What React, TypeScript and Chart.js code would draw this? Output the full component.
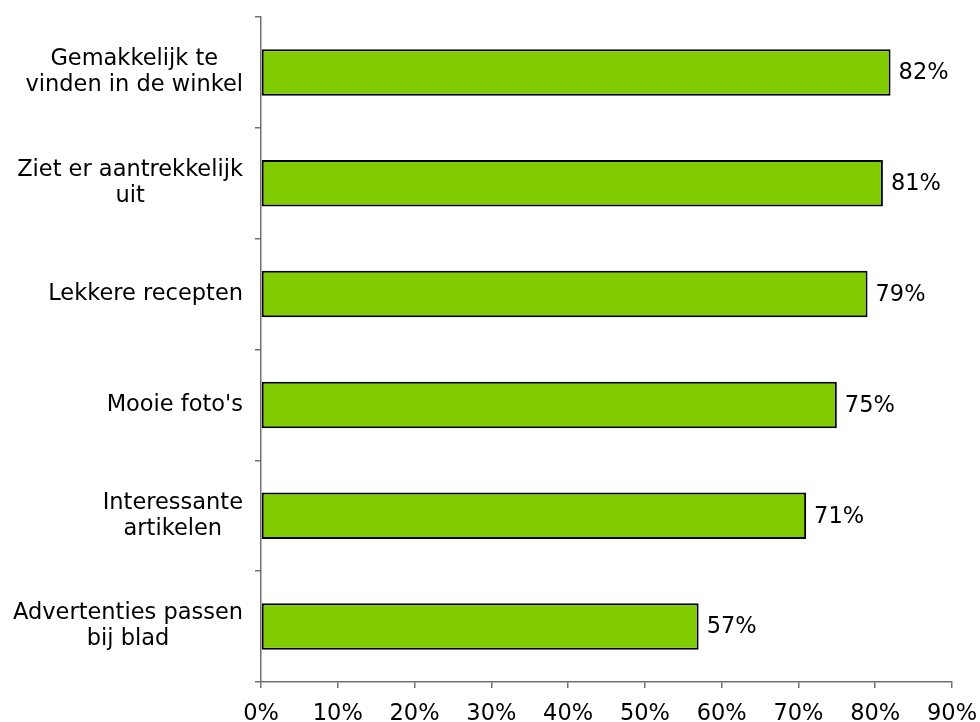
import React, { useEffect, useRef } from "react";
import { Chart, registerables } from "chart.js";

Chart.register(...registerables);

const categories: string[][] = [
  ["Gemakkelijk te", "vinden in de winkel"],
  ["Ziet er aantrekkelijk", "uit"],
  ["Lekkere recepten"],
  ["Mooie foto's"],
  ["Interessante", "artikelen"],
  ["Advertenties passen", "bij blad"],
];
const values: number[] = [82, 81, 79, 75, 71, 57];
const xTicks: number[] = [0, 10, 20, 30, 40, 50, 60, 70, 80, 90];

const FONT = "DejaVu Sans, Verdana, sans-serif";
const FS = 22.5;

const labelPlugin = {
  id: "customLabels",
  afterDraw(chart: any) {
    const ctx = chart.ctx;
    const yScale = chart.scales.y;
    const xScale = chart.scales.x;
    ctx.save();
    ctx.font = `${FS}px ${FONT}`;
    ctx.fillStyle = "#000";
    ctx.textBaseline = "middle";
    const lh = 26;
    categories.forEach((lines, i) => {
      const cy = yScale.getPixelForValue(i);
      const widths = lines.map((l) => ctx.measureText(l).width);
      const bw = Math.max(...widths);
      const right = 243;
      const cx = right - bw / 2;
      ctx.textAlign = "center";
      const start = cy - ((lines.length - 1) * lh) / 2;
      lines.forEach((l, j) => ctx.fillText(l, cx, start + j * lh));
    });
    const meta = chart.getDatasetMeta(0);
    ctx.textAlign = "left";
    meta.data.forEach((bar: any, i: number) => {
      ctx.fillText(values[i] + "%", bar.x + 8, bar.y + 1);
    });
    ctx.textAlign = "center";
    ctx.textBaseline = "alphabetic";
    xTicks.forEach((v) => {
      ctx.fillText(v + "%", xScale.getPixelForValue(v), 720);
    });
    ctx.restore();
  },
};

export default function App() {
  const ref = useRef<HTMLCanvasElement>(null);
  useEffect(() => {
    if (!ref.current) return;
    const chart = new Chart(ref.current, {
      type: "bar",
      data: {
        labels: categories.map((c) => c.join(" ")),
        datasets: [
          {
            data: values,
            backgroundColor: "#80CC00",
            borderColor: "#000",
            borderWidth: 2,
            borderSkipped: false,
            barPercentage: 0.42,
            categoryPercentage: 1,
          },
        ],
      },
      options: {
        indexAxis: "y",
        animation: false,
        responsive: false,
        devicePixelRatio: 1,
        layout: { padding: { top: 17, right: 28, left: 0, bottom: 0 } },
        plugins: { legend: { display: false }, tooltip: { enabled: false } },
        scales: {
          y: {
            offset: true,
            grid: {
              offset: true,
              drawOnChartArea: false,
              tickLength: 6,
              color: "#707070",
              lineWidth: 1.5,
            },
            border: { color: "#707070", width: 1.5 },
            ticks: { display: false },
            afterFit: (s: any) => {
              s.width = 261;
            },
          },
          x: {
            min: 0,
            max: 90,
            afterBuildTicks: (s: any) => {
              s.ticks = xTicks.map((v) => ({ value: v }));
            },
            grid: {
              drawOnChartArea: false,
              tickLength: 6,
              color: "#707070",
              lineWidth: 1.5,
            },
            border: { color: "#707070", width: 1.5 },
            ticks: { display: false },
            afterFit: (s: any) => {
              s.height = 40;
            },
          },
        },
      },
      plugins: [labelPlugin],
    } as any);
    return () => chart.destroy();
  }, []);
  return (
    <div style={{ position: "absolute", left: 0, top: 0, width: 980, height: 722 }}>
      <canvas ref={ref} width={980} height={722} style={{ display: "block" }} />
    </div>
  );
}
